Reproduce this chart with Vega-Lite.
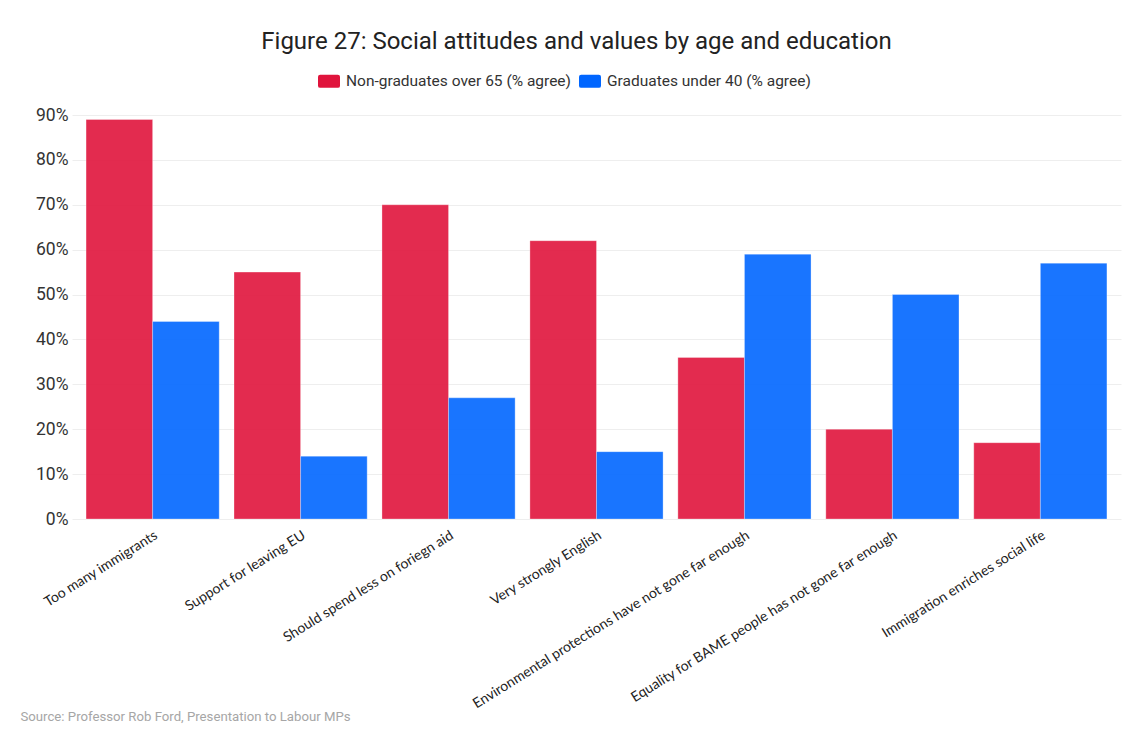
{
  "$schema": "https://vega.github.io/schema/vega-lite/v6.json",
  "width": 1049,
  "height": 404,
  "autosize": {"type": "none"},
  "padding": {"left": 72, "top": 115, "right": 18, "bottom": 216},
  "background": "white",
  "title": {
    "text": "Figure 27: Social attitudes and values by age and education",
    "anchor": "middle",
    "dx": -20,
    "offset": 16,
    "font": "Roboto",
    "fontSize": 24,
    "fontWeight": "normal",
    "color": "#222222"
  },
  "data": {
    "values": [
      {"category": "Too many immigrants", "group": "Non-graduates over 65 (% agree)", "value": 89},
      {"category": "Too many immigrants", "group": "Graduates under 40 (% agree)", "value": 44},
      {"category": "Support for leaving EU", "group": "Non-graduates over 65 (% agree)", "value": 55},
      {"category": "Support for leaving EU", "group": "Graduates under 40 (% agree)", "value": 14},
      {"category": "Should spend less on foriegn aid", "group": "Non-graduates over 65 (% agree)", "value": 70},
      {"category": "Should spend less on foriegn aid", "group": "Graduates under 40 (% agree)", "value": 27},
      {"category": "Very strongly English", "group": "Non-graduates over 65 (% agree)", "value": 62},
      {"category": "Very strongly English", "group": "Graduates under 40 (% agree)", "value": 15},
      {"category": "Environmental protections have not gone far enough", "group": "Non-graduates over 65 (% agree)", "value": 36},
      {"category": "Environmental protections have not gone far enough", "group": "Graduates under 40 (% agree)", "value": 59},
      {"category": "Equality for BAME people has not gone far enough", "group": "Non-graduates over 65 (% agree)", "value": 20},
      {"category": "Equality for BAME people has not gone far enough", "group": "Graduates under 40 (% agree)", "value": 50},
      {"category": "Immigration enriches social life", "group": "Non-graduates over 65 (% agree)", "value": 17},
      {"category": "Immigration enriches social life", "group": "Graduates under 40 (% agree)", "value": 57}
    ]
  },
  "mark": {"type": "bar", "fillOpacity": 0.9, "stroke": "white", "strokeOpacity": 0.3, "strokeWidth": 1},
  "encoding": {
    "x": {
      "field": "category",
      "type": "nominal",
      "sort": null,
      "scale": {"paddingInner": 0.1, "paddingOuter": 0.095},
      "axis": {
        "title": "Source: Professor Rob Ford, Presentation to Labour MPs",
        "titleAnchor": "start",
        "titleAlign": "left",
        "titleX": -52,
        "titleY": 197,
        "titleBaseline": "middle",
        "titleFont": "Roboto",
        "titleFontSize": 13.2,
        "titleFontWeight": "normal",
        "titleColor": "#a6a6a6",
        "labelAngle": -32,
        "labelAlign": "right",
        "labelBaseline": "top",
        "labelFont": "Lato",
        "labelFontSize": 14,
        "labelColor": "#222222",
        "labelPadding": 9,
        "labelLimit": 400,
        "domain": false,
        "ticks": false
      }
    },
    "xOffset": {
      "field": "group",
      "type": "nominal",
      "sort": ["Non-graduates over 65 (% agree)", "Graduates under 40 (% agree)"],
      "scale": {"paddingInner": 0, "paddingOuter": 0}
    },
    "y": {
      "field": "value",
      "type": "quantitative",
      "scale": {"domain": [0, 90], "nice": false},
      "axis": {
        "title": null,
        "values": [0, 10, 20, 30, 40, 50, 60, 70, 80, 90],
        "labelExpr": "datum.value + '%'",
        "labelFont": "Roboto",
        "labelFontSize": 17.5,
        "labelColor": "#333333",
        "labelPadding": 4,
        "domain": false,
        "ticks": false,
        "gridColor": "#eeeeee"
      }
    },
    "color": {
      "field": "group",
      "type": "nominal",
      "sort": ["Non-graduates over 65 (% agree)", "Graduates under 40 (% agree)"],
      "scale": {
        "domain": ["Non-graduates over 65 (% agree)", "Graduates under 40 (% agree)"],
        "range": ["#E0143C", "#0066FF"]
      },
      "legend": {
        "title": null,
        "orient": "none",
        "direction": "horizontal",
        "legendX": 246,
        "legendY": -45,
        "symbolType": "M-0.8,-0.6 L0.8,-0.6 Q1,-0.6 1,-0.4 L1,0.4 Q1,0.6 0.8,0.6 L-0.8,0.6 Q-1,0.6 -1,0.4 L-1,-0.4 Q-1,-0.6 -0.8,-0.6 Z",
        "symbolSize": 484,
        "symbolOpacity": 1,
        "symbolStrokeWidth": 0,
        "labelFont": "Roboto",
        "labelFontSize": 15.5,
        "labelColor": "#333333",
        "labelLimit": 400,
        "columnPadding": 8,
        "labelOffset": 6
      }
    }
  },
  "config": {
    "view": {"stroke": null}
  }
}
